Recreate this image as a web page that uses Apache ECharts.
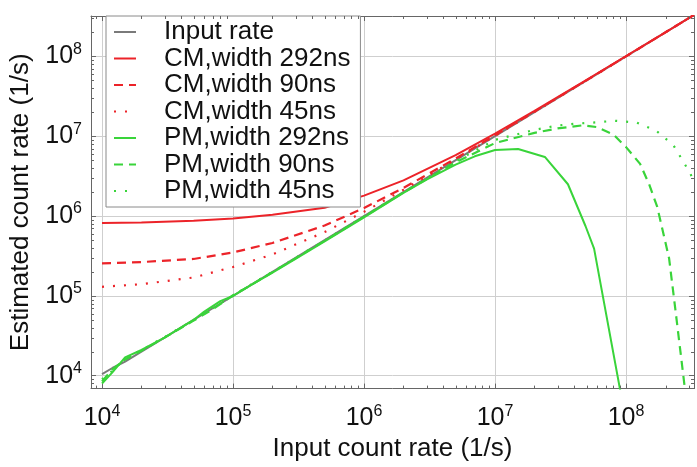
<!DOCTYPE html>
<html>
<head>
<meta charset="utf-8">
<script src="https://cdn.jsdelivr.net/npm/echarts@6/dist/echarts.min.js"></script>
<style>
  html, body { margin: 0; padding: 0; background: #fff; }
  #chart { width: 697px; height: 467px; }
</style>
</head>
<body>
<div id="chart"></div>
<script>
// Input count rate (1/s) and estimated count rate (1/s) for each method / window width
const inputRateX = [1e4, 1.2e4, 1.5e4, 2e4, 3e4, 5e4, 7e4, 1e5, 2e5, 5e5, 1e6, 1e7, 1e8, 3.3e8];
const inputRateY = [1.05e4, 1.25e4, 1.5e4, 2e4, 3e4, 5e4, 7e4, 1e5, 2e5, 5e5, 1e6, 1e7, 1e8, 3.3e8];

const cmRate = [1e4, 2e4, 5e4, 1e5, 2e5, 5e5, 1e6, 2e6, 5e6, 1e7, 2e7, 5e7, 1e8, 2e8, 3.3e8];
const cm292 = [8.2e5, 8.3e5, 8.7e5, 9.3e5, 1.04e6, 1.27e6, 1.8e6, 2.8e6, 5.8e6, 1.08e7, 2.08e7, 5.08e7, 1.01e8, 2.0e8, 3.3e8];
const cm90  = [2.55e5, 2.65e5, 2.9e5, 3.5e5, 4.6e5, 7.6e5, 1.26e6, 2.25e6, 5.25e6, 1.03e7, 2.03e7, 5.02e7, 1.0e8, 2.0e8, 3.3e8];
const cm45  = [1.3e5, 1.4e5, 1.7e5, 2.3e5, 3.3e5, 6.3e5, 1.13e6, 2.13e6, 5.1e6, 1.01e7, 2.01e7, 5.0e7, 1.0e8, 2.0e8, 3.3e8];

const pm292Rate = [1e4, 1.2e4, 1.5e4, 2e4, 3e4, 4e4, 5e4, 6e4, 8e4, 1e5, 1.3e5, 2e5, 3e5, 5e5, 1e6, 2e6, 3e6, 5e6, 7e6, 1e7, 1.5e7, 2.4e7, 3.6e7, 4.9e7, 5.7e7, 1.05e8];
const pm292 = [8e3, 1.1e4, 1.7e4, 2.1e4, 3.0e4, 4.0e4, 5.0e4, 6.3e4, 8.6e4, 1.0e5, 1.3e5, 1.95e5, 2.9e5, 4.8e5, 9.6e5, 1.95e6, 2.85e6, 4.4e6, 5.6e6, 6.7e6, 6.9e6, 5.5e6, 2.5e6, 7.5e5, 3.9e5, 1.7e3];

const pm90Rate = [1e4, 1.2e4, 1.5e4, 2e4, 3e4, 5e4, 7e4, 1e5, 1.3e5, 2e5, 5e5, 1e6, 2e6, 5e6, 1e7, 2e7, 3e7, 4.7e7, 6e7, 8e7, 1e8, 1.28e8, 1.5e8, 1.73e8, 2.13e8, 2.37e8, 2.8e8, 3.0e8];
const pm90 = [8.5e3, 1.2e4, 1.6e4, 2.05e4, 3.0e4, 4.9e4, 6.8e4, 1.02e5, 1.3e5, 1.98e5, 4.9e5, 9.8e5, 1.97e6, 4.7e6, 8.2e6, 1.1e7, 1.25e7, 1.37e7, 1.3e7, 1.05e7, 7.3e6, 4.5e6, 2.5e6, 1.3e6, 2.95e5, 7.1e4, 7.3e3, 2e3];

const pm45Rate = [1e4, 1.2e4, 1.5e4, 2e4, 3e4, 5e4, 7e4, 1e5, 1.3e5, 2e5, 5e5, 1e6, 2e6, 5e6, 1e7, 2e7, 3e7, 4e7, 5.6e7, 8.2e7, 1.2e8, 1.7e8, 2.3e8, 3.1e8, 3.3e8];
const pm45 = [9e3, 1.15e4, 1.65e4, 2.1e4, 3.05e4, 5e4, 7e4, 1.0e5, 1.32e5, 2e5, 4.95e5, 9.9e5, 1.98e6, 4.85e6, 9.0e6, 1.2e7, 1.36e7, 1.43e7, 1.48e7, 1.56e7, 1.48e7, 1.17e7, 7.7e6, 3.4e6, 2.6e6];

const seriesNames = ['Input rate', 'CM,width 292ns', 'CM,width 90ns', 'CM,width 45ns',
                     'PM,width 292ns', 'PM,width 90ns', 'PM,width 45ns'];

const X_MIN = 8.24e3, X_MAX = 3.3e8;
const Y_MIN = 6.9e3, Y_MAX = 3.2e8;

const RED = '#ec2329';
const GREEN = '#39d43a';
const GRAY = '#7a7a7a';
const AXIS = '#666';
const FONT = '"Liberation Sans", Arial, Helvetica, sans-serif';

// minor tick positions (2..9 x each decade)
function minorTicks(lo, hi) {
  const out = [];
  for (let e = 3; e <= 9; e++) {
    for (let m = 2; m <= 9; m++) {
      const v = m * Math.pow(10, e);
      if (v > lo && v < hi) out.push(v);
    }
  }
  return out;
}
const minorX = minorTicks(X_MIN, X_MAX);
const minorY = minorTicks(Y_MIN, Y_MAX);

function zip(xs, ys) { return xs.map((x, i) => [x, ys[i]]); }

function powerLabel(v) {
  const e = Math.log10(v);
  if (Math.abs(e - Math.round(e)) > 1e-6) return '';
  return '{b|10}{s|' + Math.round(e) + '}';
}
const labelRich = {
  b: { fontSize: 25, lineHeight: 30, color: '#111', fontFamily: FONT },
  s: { fontSize: 16, lineHeight: 16, color: '#111', fontFamily: FONT, verticalAlign: 'top' }
};

function lineSeries(name, data, color, type, width) {
  return {
    name, type: 'line', data, symbol: 'none', smooth: false, clip: true,
    lineStyle: { color, width, type },
    itemStyle: { color },
    emphasis: { disabled: true }
  };
}

function minorTickSeries(values, isX) {
  return {
    type: 'custom', silent: true, clip: false, z: 5,
    data: values.map(v => isX ? [v, Y_MIN * 2] : [X_MIN * 2, v]),
    encode: { x: 0, y: 1 },
    renderItem(params, api) {
      const cs = params.coordSys;
      const p = api.coord([api.value(0), api.value(1)]);
      const len = 3;
      const st = { stroke: AXIS, lineWidth: 1 };
      if (isX) {
        const x = Math.round(p[0]) + 0.5;
        return { type: 'group', children: [
          { type: 'line', shape: { x1: x, y1: cs.y + cs.height, x2: x, y2: cs.y + cs.height - len }, style: st },
          { type: 'line', shape: { x1: x, y1: cs.y, x2: x, y2: cs.y + len }, style: st }
        ]};
      }
      const y = Math.round(p[1]) + 0.5;
      return { type: 'group', children: [
        { type: 'line', shape: { x1: cs.x, y1: y, x2: cs.x + len, y2: y }, style: st },
        { type: 'line', shape: { x1: cs.x + cs.width, y1: y, x2: cs.x + cs.width - len, y2: y }, style: st }
      ]};
    }
  };
}

const baseAxis = {
  type: 'log', logBase: 10,
  axisLine: { show: true, lineStyle: { color: AXIS, width: 1 } },
  axisTick: { show: true, inside: true, length: 5, lineStyle: { color: AXIS } },
  minorTick: { show: false },
  splitLine: { show: false }
};

const option = {
  backgroundColor: '#fff',
  animation: false,
  textStyle: { fontFamily: FONT },
  grid: { left: 91, right: 3, top: 16, bottom: 71, containLabel: false },
  xAxis: [
    Object.assign({}, baseAxis, {
      min: X_MIN, max: X_MAX, position: 'bottom',
      name: 'Input count rate (1/s)', nameLocation: 'middle', nameGap: 47,
      nameTextStyle: { fontSize: 26, color: '#111', fontFamily: FONT },
      axisLabel: { formatter: powerLabel, rich: labelRich, margin: 15 },
      splitLine: { show: true, lineStyle: { color: '#cfcfcf', width: 1 } }
    }),
    Object.assign({}, baseAxis, {
      min: X_MIN, max: X_MAX, position: 'top', axisLabel: { show: false }
    })
  ],
  yAxis: [
    Object.assign({}, baseAxis, {
      min: Y_MIN, max: Y_MAX, position: 'left',
      name: 'Estimated count rate (1/s)', nameLocation: 'middle', nameGap: 57,
      nameTextStyle: { fontSize: 26, color: '#111', fontFamily: FONT },
      axisLabel: { formatter: powerLabel, rich: labelRich, margin: 9 },
      splitLine: { show: true, lineStyle: { color: '#cfcfcf', width: 1 } }
    }),
    Object.assign({}, baseAxis, {
      min: Y_MIN, max: Y_MAX, position: 'right', axisLabel: { show: false }
    })
  ],
  legend: {
    orient: 'vertical', left: 106, top: 16,
    backgroundColor: '#fff', borderColor: '#8a8a8a', borderWidth: 1, borderRadius: 0,
    padding: [3, 10, 3, 7],
    itemWidth: 22, itemHeight: 24, itemGap: 0.5,
    // line samples only: the marker shape is hidden
    itemStyle: { color: 'rgba(0,0,0,0)', borderColor: 'rgba(0,0,0,0)', borderWidth: 0, opacity: 0 },
    textStyle: { fontSize: 26, lineHeight: 24, color: '#111', fontFamily: FONT, padding: [0, 0, 0, 23] },
    data: seriesNames,
    selectedMode: false
  },
  series: [
    lineSeries(seriesNames[0], zip(inputRateX, inputRateY), GRAY, 'solid', 2),
    lineSeries(seriesNames[1], zip(cmRate, cm292), RED, 'solid', 2),
    lineSeries(seriesNames[2], zip(cmRate, cm90), RED, [9, 6], 2.2),
    lineSeries(seriesNames[3], zip(cmRate, cm45), RED, [2, 9], 2.2),
    lineSeries(seriesNames[4], zip(pm292Rate, pm292), GREEN, 'solid', 2),
    lineSeries(seriesNames[5], zip(pm90Rate, pm90), GREEN, [9, 6], 2.2),
    lineSeries(seriesNames[6], zip(pm45Rate, pm45), GREEN, [2, 9], 2.2),
    minorTickSeries(minorX, true),
    minorTickSeries(minorY, false)
  ]
};

const chart = echarts.init(document.getElementById('chart'));
chart.setOption(option);
</script>
</body>
</html>
